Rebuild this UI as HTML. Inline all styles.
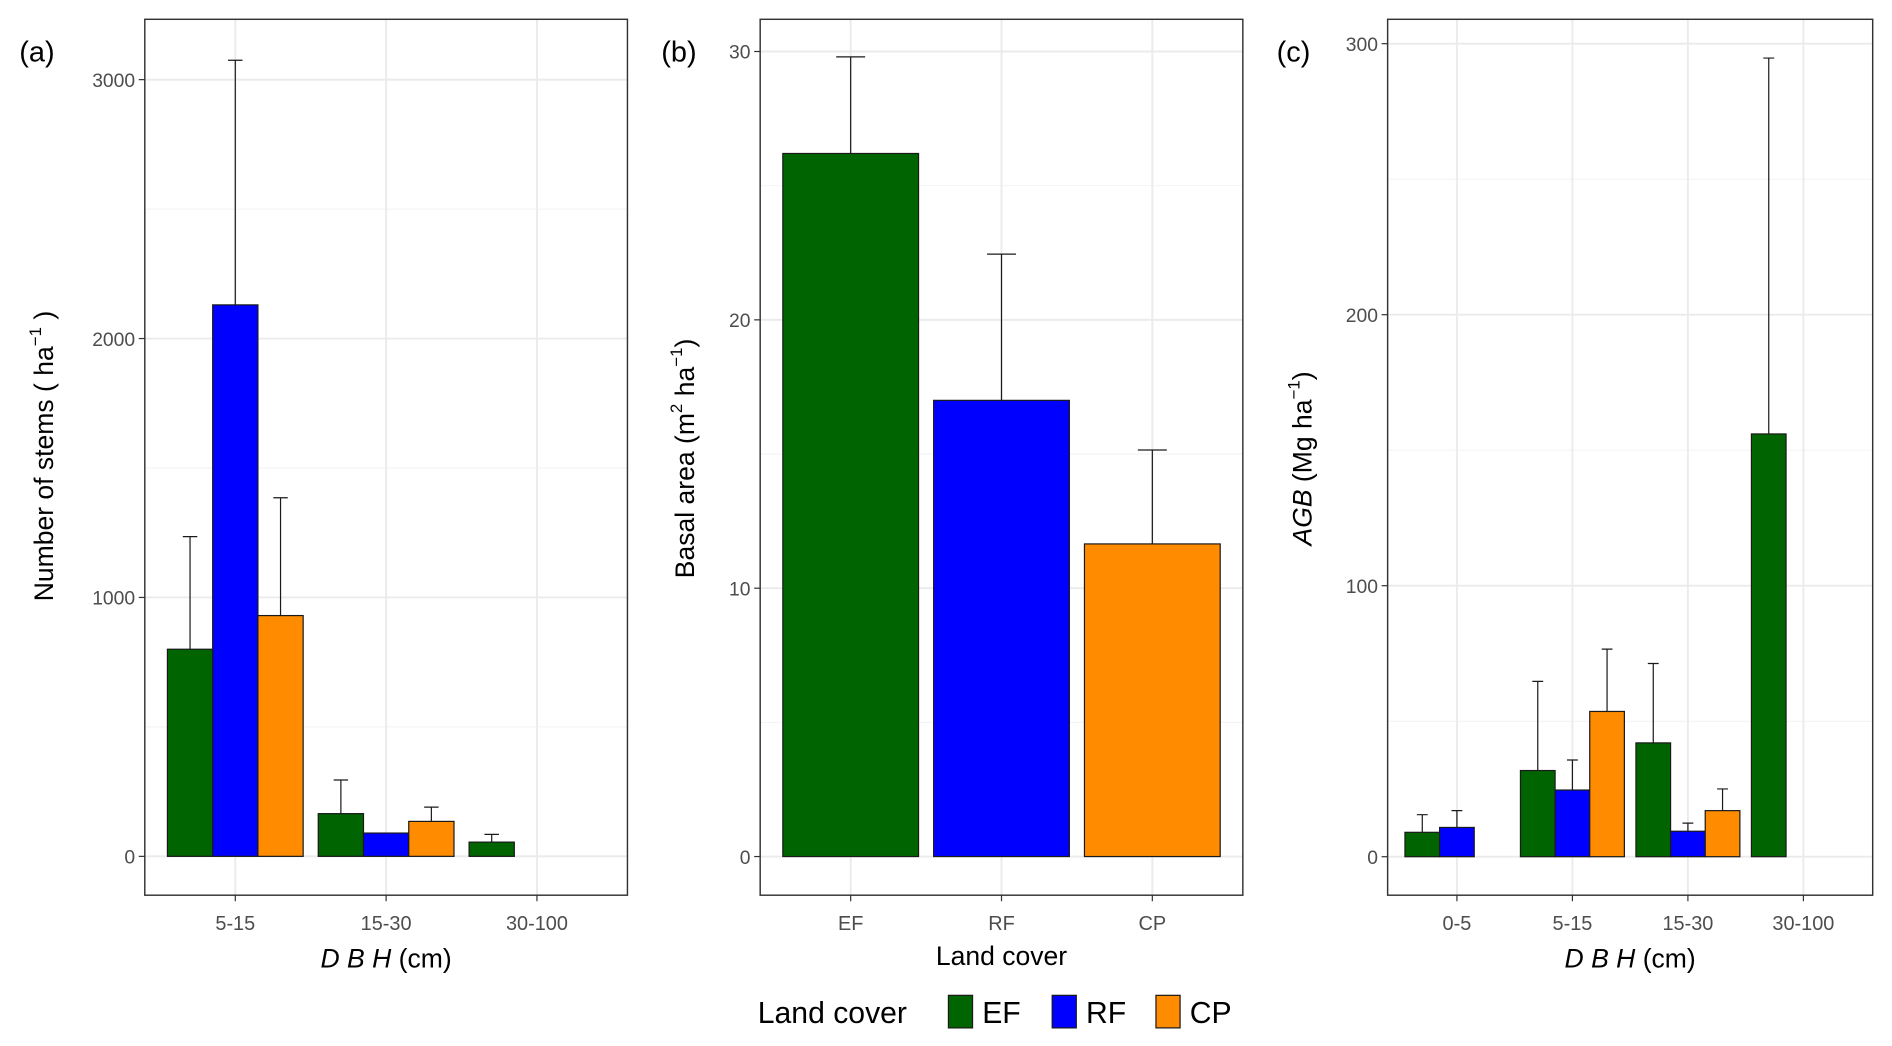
<!DOCTYPE html>
<html><head><meta charset="utf-8"><style>
html,body{margin:0;padding:0;background:#fff}
svg{display:block}
text{font-family:"Liberation Sans",sans-serif}
</style></head><body>
<svg id="fig" width="1892" height="1046" viewBox="0 0 1568 867" preserveAspectRatio="none" xmlns="http://www.w3.org/2000/svg"></svg>
<script>
// Panel (a) data
const catsA = ["5-15","15-30","30-100"];
const efA = [800,165,55];
const rfA = [2130,90,null];
const cpA = [930,135,null];
const efErrA = [1235,295,85];
const rfErrA = [3075,null,null];
const cpErrA = [1385,190,null];
const ticksA = [0,1000,2000,3000];
// Panel (b) data
const catsB = ["EF","RF","CP"];
const valB = [26.2,17.0,11.65];
const errB = [29.8,22.45,15.15];
const ticksB = [0,10,20,30];
// Panel (c) data
const catsC = ["0-5","5-15","15-30","30-100"];
const efC = [9,31.8,42,156];
const rfC = [10.8,24.6,9.4,null];
const cpC = [null,53.6,17,null];
const efErrC = [15.5,64.7,71.3,294.7];
const rfErrC = [17,35.7,12.4,null];
const cpErrC = [null,76.6,25,null];
const ticksC = [0,100,200,300];

const COLORS = {EF:"#006400", RF:"#0000FF", CP:"#FF8C00"};
const NS = "http://www.w3.org/2000/svg";
const svg = document.getElementById("fig");
function mk(tag, attrs, parent){const e=document.createElementNS(NS,tag);for(const k in attrs)e.setAttribute(k,attrs[k]);(parent||svg).appendChild(e);return e;}

function panel(o){
  const g = mk("g",{});
  
  
  const x0=o.x0,x1=o.x1,y0=16,y1=742;
  const yTop=o.yMax, yBot=o.yMin;
  const ys=v=>y1-(v-yBot)/(yTop-yBot)*(y1-y0);
  const n=o.cats.length;
  const step=(x1-x0)/(n-1+1.2);
  const xs=i=>x0+step*(0.6+i);
  mk("rect",{x:x0,y:y0,width:x1-x0,height:y1-y0,fill:"#fff"},g);
  for(let i=0;i<o.ticks.length-1;i++){const v=(o.ticks[i]+o.ticks[i+1])/2;mk("line",{x1:x0,x2:x1,y1:ys(v),y2:ys(v),stroke:"#f2f2f2","stroke-width":0.8},g);}
  const extra=o.ticks[o.ticks.length-1]+(o.ticks[1]-o.ticks[0])/2;
  if(extra<yTop) mk("line",{x1:x0,x2:x1,y1:ys(extra),y2:ys(extra),stroke:"#f2f2f2","stroke-width":0.8},g);
  o.ticks.forEach(v=>{const y=ys(v);
    const l=mk("line",{x1:x0,x2:x1,y1:y,y2:y,stroke:"#ebebeb","stroke-width":1.6},g);
    
    
    mk("line",{x1:x0-5,x2:x0,y1:y,y2:y,stroke:"#333","stroke-width":1},g);
    const t=mk("text",{x:x0-8,y:y+6,"text-anchor":"end","font-size":16,fill:"#4d4d4d"},g);t.textContent=v;
    
    
  });
  o.cats.forEach((c,i)=>{const x=xs(i);
    mk("line",{x1:x,x2:x,y1:y0,y2:y1,stroke:"#ebebeb","stroke-width":1.6},g);
    mk("line",{x1:x,x2:x,y1:y1,y2:y1+5,stroke:"#333","stroke-width":1},g);
    const t=mk("text",{x:x,y:y1+29,"text-anchor":"middle","font-size":16.5,fill:"#4d4d4d"},g);t.textContent=c;
    
    
  });
  const ns=o.series.length, bw=step*0.9/ns;
  o.series.forEach((s,si)=>{
    s.vals.forEach((v,i)=>{ if(v==null) return;
      const xl=xs(i)-step*0.45+si*bw;
      const key=s.keys?s.keys[i]:s.key;
      const r=mk("rect",{x:xl,y:ys(v),width:bw,height:ys(0)-ys(v),fill:COLORS[key],stroke:"#1a1a1a","stroke-width":1},g);
      
      
      const e=s.errs[i];
      if(e!=null){const cx=xl+bw/2,cw=o.capPx/2;
        const eb=mk("path",{d:`M${cx},${ys(v)}V${ys(e)}M${cx-cw},${ys(e)}H${cx+cw}`,stroke:"#1a1a1a","stroke-width":1,fill:"none"},g);
        
        
      }
    });
  });
  mk("rect",{x:x0,y:y0,width:x1-x0,height:y1-y0,fill:"none",stroke:"#333","stroke-width":1.2},g);
  const pl=mk("text",{x:o.labelX,y:51,"font-size":24,fill:"#000"},g);pl.textContent=o.label;
  
  
  return g;
}

panel({name:"panel-a-stems",x0:120,x1:520,yMin:-150,yMax:3233,cats:catsA,ticks:ticksA,capPx:12,label:"(a)",labelX:16,
  series:[{key:"EF",vals:efA,errs:efErrA},{key:"RF",vals:rfA,errs:rfErrA},{key:"CP",vals:cpA,errs:cpErrA}]});
panel({name:"panel-b-basal-area",x0:630,x1:1030,yMin:-1.44,yMax:31.2,cats:catsB,ticks:ticksB,capPx:24,label:"(b)",labelX:548,
  series:[{keys:catsB,vals:valB,errs:errB}]});
panel({name:"panel-c-agb",x0:1150,x1:1552,yMin:-14.2,yMax:309,cats:catsC,ticks:ticksC,capPx:9,label:"(c)",labelX:1058,
  series:[{key:"EF",vals:efC,errs:efErrC},{key:"RF",vals:rfC,errs:rfErrC},{key:"CP",vals:cpC,errs:cpErrC}]});
</script>
<script>
(function(){
const svg=document.getElementById("fig");
const add=(html)=>svg.insertAdjacentHTML("beforeend",html);
add(`<g font-family="Liberation Sans, sans-serif" fill="#000">
<text x="320" y="802" font-size="22" text-anchor="middle"><tspan font-style="italic">D B H</tspan> (cm)</text>
<text x="830" y="800" font-size="22" text-anchor="middle">Land cover</text>
<text x="1351" y="802" font-size="22" text-anchor="middle"><tspan font-style="italic">D B H</tspan> (cm)</text>
<text transform="translate(44,378) rotate(-90)" font-size="22" text-anchor="middle">Number of stems ( ha<tspan font-size="14" dy="-10">−1</tspan><tspan dy="10"> )</tspan></text>
<text transform="translate(575,380) rotate(-90)" font-size="22" text-anchor="middle">Basal area (m<tspan font-size="14" dy="-10">2</tspan><tspan dy="10"> ha</tspan><tspan font-size="14" dy="-10">−1</tspan><tspan dy="10">)</tspan></text>
<text transform="translate(1087,380) rotate(-90)" font-size="22" text-anchor="middle"><tspan font-style="italic">AGB</tspan> (Mg ha<tspan font-size="14" dy="-10">−1</tspan><tspan dy="10">)</tspan></text>
</g>
<g font-family="Liberation Sans, sans-serif" font-size="25" fill="#000">
<text x="628" y="848">Land cover</text>
<rect x="786" y="825" width="20" height="27" fill="#006400" stroke="#1a1a1a"/>
<text x="814" y="848">EF</text>
<rect x="872" y="825" width="20" height="27" fill="#0000FF" stroke="#1a1a1a"/>
<text x="900" y="848">RF</text>
<rect x="958" y="825" width="20" height="27" fill="#FF8C00" stroke="#1a1a1a"/>
<text x="986" y="848">CP</text>
</g>`);
})();
</script>
</body></html>
